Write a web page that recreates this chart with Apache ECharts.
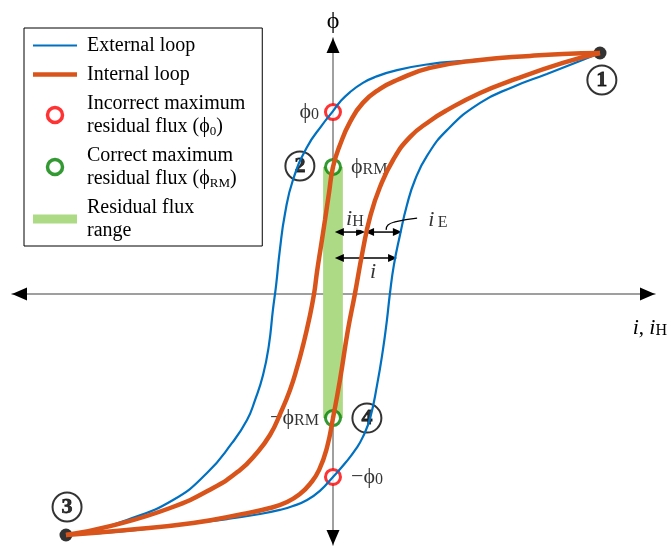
<!DOCTYPE html>
<html><head><meta charset="utf-8">
<script src="https://cdn.jsdelivr.net/npm/echarts@6/dist/echarts.min.js"></script>
<style>html,body{margin:0;padding:0;background:#fff}#c{width:668px;height:547px}</style>
</head><body><div id="c"></div>
<script>
// i normalised to the current at point 1, phi normalised to the flux at point 1
const externalDescending = [
  [1.000, 1.000], [0.861, 0.996], [0.738, 0.988], [0.614, 0.979], [0.487, 0.967],
  [0.363, 0.954], [0.240, 0.929], [0.157, 0.900], [0.112, 0.876], [0.064, 0.838],
  [0.026, 0.797], [0.000, 0.759], [-0.041, 0.701], [-0.097, 0.610], [-0.150, 0.473],
  [-0.180, 0.332], [-0.199, 0.183], [-0.213, 0.037], [-0.225, -0.066], [-0.240, -0.212],
  [-0.262, -0.336], [-0.292, -0.440], [-0.322, -0.523], [-0.378, -0.618], [-0.472, -0.743],
  [-0.599, -0.855], [-0.772, -0.938], [-0.921, -0.988], [-1.000, -1.000]
];
const externalAscending = [
  [-1.000, -1.000], [-0.873, -0.992], [-0.772, -0.983], [-0.648, -0.967], [-0.524, -0.950],
  [-0.397, -0.934], [-0.273, -0.913], [-0.199, -0.896], [-0.150, -0.880], [-0.097, -0.855],
  [-0.049, -0.817], [0.000, -0.759], [0.049, -0.697], [0.086, -0.643], [0.112, -0.593],
  [0.139, -0.515], [0.165, -0.378], [0.187, -0.232], [0.202, -0.108], [0.213, 0.000],
  [0.228, 0.120], [0.251, 0.245], [0.277, 0.369], [0.307, 0.473], [0.352, 0.573],
  [0.427, 0.680], [0.551, 0.793], [0.674, 0.859], [0.801, 0.913], [0.925, 0.967], [1.000, 1.000]
];
const internalDescending = [
  [1.000, 1.000], [0.861, 0.996], [0.738, 0.988], [0.551, 0.971], [0.363, 0.938],
  [0.240, 0.888], [0.176, 0.851], [0.112, 0.793], [0.064, 0.714], [0.026, 0.618],
  [0.000, 0.527], [-0.015, 0.419], [-0.030, 0.307], [-0.045, 0.199], [-0.060, 0.091],
  [-0.071, 0.000], [-0.090, -0.108], [-0.112, -0.212], [-0.135, -0.307], [-0.161, -0.398],
  [-0.195, -0.490], [-0.236, -0.585], [-0.292, -0.668], [-0.348, -0.730], [-0.449, -0.805],
  [-0.610, -0.888], [-0.835, -0.963], [-1.000, -1.000]
];
const internalAscending = [
  [-1.000, -1.000], [-0.772, -0.979], [-0.524, -0.950], [-0.337, -0.913], [-0.236, -0.888],
  [-0.172, -0.863], [-0.124, -0.830], [-0.086, -0.788], [-0.052, -0.730], [-0.022, -0.635],
  [0.000, -0.515], [0.026, -0.357], [0.056, -0.149], [0.082, 0.000], [0.112, 0.183],
  [0.139, 0.320], [0.176, 0.444], [0.225, 0.556], [0.288, 0.651], [0.363, 0.718],
  [0.427, 0.763], [0.551, 0.834], [0.674, 0.888], [0.861, 0.959], [1.000, 1.000]
];
// residual flux points: [i, phi, sign, subscript, label side]
const incorrectResidual = [[0, 0.755, '', '0', 'left'], [0, -0.759, '\u2212', '0', 'right']];
const correctResidual = [[0, 0.527, '', 'RM', 'right'], [0, -0.515, '\u2212', 'RM', 'left']];
const residualRange = [[-0.037, 0.527, 0.037, -0.515]]; // i left, phi top, i right, phi bottom
const saturationPoints = [[1, 1], [-1, -1]];
const stateMarkers = [['1', 1.007, 0.888], ['2', -0.124, 0.531], ['3', -0.996, -0.884], ['4', 0.127, -0.515]];
const currentArrows = [[0.007, 0.120, 0.257], [0.120, 0.258, 0.257], [0.007, 0.240, 0.149]]; // i from, i to, phi
const iELeader = [[0.199, 0.266], [0.206, 0.286], [0.232, 0.299], [0.315, 0.315]];
const annotationLabels = [['{it|i}{sub|H}', 0.082, 0.311, true], ['{it|i}', 0.150, 0.091, false], ['{it|i} {sub|E}', 0.393, 0.307, false]];
const axisRange = { iMin: -1.2022, iMax: 1.2060, phiMin: -1.0415, phiMax: 1.0622 };
const PHI = '\u03D5';
const legendNames = ['External loop', 'Internal loop', 'Incorrect maximum residual flux', 'Correct maximum residual flux', 'Residual flux range'];
const legendTexts = ['External loop', 'Internal loop', 'Incorrect maximum\nresidual flux ({lp|' + PHI + '}{ls|0})',
  'Correct maximum\nresidual flux ({lp|' + PHI + '}{ls|RM})', 'Residual flux\nrange'];

const serif = '"Liberation Serif", "Times New Roman", serif';
const BLUE = '#0070C0', ORANGE = '#D9541A', GREEN = '#008000', RED = '#FF0000', BAND = '#ADDA84';

const rich = {
  p: { fontFamily: serif, fontSize: 22, color: '#000' },
  s: { fontFamily: serif, fontSize: 16, color: '#000', verticalAlign: 'bottom', lineHeight: 16 },
  it: { fontFamily: serif, fontSize: 22, fontStyle: 'italic', color: '#000' },
  sub: { fontFamily: serif, fontSize: 16, color: '#000', verticalAlign: 'bottom', lineHeight: 16 },
  lp: { fontFamily: serif, fontSize: 20, color: '#000' },
  ls: { fontFamily: serif, fontSize: 13, color: '#000', verticalAlign: 'bottom', lineHeight: 16 },
  b: { fontFamily: serif, fontSize: 22, fontWeight: 'bold', color: '#000', textBorderColor: '#000', textBorderWidth: 0.8 }
};

function residualData(arr) {
  return arr.map(d => ({
    value: [d[0], d[1]],
    label: { show: true, position: d[4], distance: d[4] === 'left' ? 4 : 8, color: '#000',
      formatter: '{p|' + d[2] + PHI + '}{s|' + d[3] + '}', rich: rich,
      backgroundColor: d[2] && d[4] === 'left' ? '#fff' : 'transparent', padding: [4, 1, 4, 1] }
  }));
}

const chart = echarts.init(document.getElementById('c'), null, { renderer: 'canvas' });
const lineBase = { type: 'line', symbol: 'none', showSymbol: false, smooth: 0.5, animation: false, silent: true, emphasis: { disabled: true } };

chart.setOption({
  animation: false,
  backgroundColor: '#fff',
  grid: { left: 12, right: 13, top: 38, bottom: 2, outerBoundsMode: 'none', containLabel: false },
  xAxis: {
    type: 'value', min: axisRange.iMin, max: axisRange.iMax,
    axisLine: { onZero: true, lineStyle: { color: '#808080', width: 1.5 } },
    axisTick: { show: false }, axisLabel: { show: false }, splitLine: { show: false },
    name: '{it|i}{p2|, }{it|i}{sub|H}', nameLocation: 'end', nameGap: 12,
    nameTextStyle: { align: 'right', verticalAlign: 'top', padding: [23, 0, 0, 0],
      rich: Object.assign({ p2: { fontFamily: serif, fontSize: 21, color: '#000' } }, rich) }
  },
  yAxis: {
    type: 'value', min: axisRange.phiMin, max: axisRange.phiMax,
    axisLine: { onZero: true, lineStyle: { color: '#808080', width: 1.5 } },
    axisTick: { show: false }, axisLabel: { show: false }, splitLine: { show: false },
    name: PHI, nameLocation: 'end', nameGap: 4,
    nameTextStyle: { fontFamily: serif, fontSize: 24, color: '#000', align: 'center' }
  },
  legend: {
    orient: 'vertical', left: 24, top: 28, padding: [6, 17, 4, 9], itemGap: 6,
    itemWidth: 44, itemHeight: 15, borderColor: '#000', borderWidth: 1, backgroundColor: '#fff',
    selectedMode: false,
    textStyle: { fontFamily: serif, fontSize: 20, color: '#000', lineHeight: 23, padding: [0, 0, 0, 5], rich: rich },
    formatter: name => legendTexts[legendNames.indexOf(name)],
    data: [
      { name: legendNames[0], icon: 'path://M0 0H44V2.2H0Z', itemStyle: { color: BLUE } },
      { name: legendNames[1], icon: 'path://M0 0H44V4.5H0Z', itemStyle: { color: ORANGE } },
      { name: legendNames[2], icon: 'circle', itemStyle: { color: '#fff', borderColor: RED, borderWidth: 3.5 } },
      { name: legendNames[3], icon: 'circle', itemStyle: { color: '#fff', borderColor: GREEN, borderWidth: 3.5 } },
      { name: legendNames[4], icon: 'path://M0 0H43V9H0Z', itemStyle: { color: BAND } }
    ]
  },
  series: [
    {
      name: legendNames[4], type: 'custom', silent: true, itemStyle: { color: BAND },
      encode: { x: [0, 2], y: [1, 3] }, data: residualRange,
      renderItem: (params, api) => {
        const a = api.coord([api.value(0), api.value(1)]);
        const b = api.coord([api.value(2), api.value(3)]);
        return { type: 'rect', shape: { x: a[0], y: a[1], width: b[0] - a[0], height: b[1] - a[1] }, style: { fill: BAND } };
      }
    },
    Object.assign({}, lineBase, { name: legendNames[0], data: externalDescending, itemStyle: { color: BLUE }, lineStyle: { color: BLUE, width: 2.2 } }),
    Object.assign({}, lineBase, { name: legendNames[0], data: externalAscending, itemStyle: { color: BLUE }, lineStyle: { color: BLUE, width: 2.2 } }),
    Object.assign({}, lineBase, { name: legendNames[1], data: internalDescending, itemStyle: { color: ORANGE }, lineStyle: { color: ORANGE, width: 4.5 } }),
    Object.assign({}, lineBase, { name: legendNames[1], data: internalAscending, itemStyle: { color: ORANGE }, lineStyle: { color: ORANGE, width: 4.5 } }),
    {
      name: 'current arrows', type: 'custom', silent: true, data: currentArrows, encode: { x: [0, 1], y: 2 },
      renderItem: (params, api) => {
        const p1 = api.coord([api.value(0), api.value(2)]);
        const p2 = api.coord([api.value(1), api.value(2)]);
        const L = 9, W = 4;
        return { type: 'group', children: [
          { type: 'line', shape: { x1: p1[0] + L - 1, y1: p1[1], x2: p2[0] - L + 1, y2: p2[1] }, style: { stroke: '#000', lineWidth: 1.5 } },
          { type: 'polygon', shape: { points: [[p1[0], p1[1]], [p1[0] + L, p1[1] - W], [p1[0] + L, p1[1] + W]] }, style: { fill: '#000' } },
          { type: 'polygon', shape: { points: [[p2[0], p2[1]], [p2[0] - L, p2[1] - W], [p2[0] - L, p2[1] + W]] }, style: { fill: '#000' } }
        ] };
      }
    },
    Object.assign({}, lineBase, { name: 'iE leader', data: iELeader, smooth: 0.5, lineStyle: { color: '#000', width: 1.2 } }),
    {
      name: 'annotations', type: 'scatter', symbolSize: 1, itemStyle: { color: 'transparent' }, silent: true,
      data: annotationLabels.map(d => ({ value: [d[1], d[2]], label: { show: true, position: 'inside', formatter: d[0], rich: rich,
        backgroundColor: d[3] ? '#fff' : 'transparent', padding: [0, 1, 0, 1] } }))
    },
    {
      name: legendNames[2], type: 'scatter', symbol: 'circle', symbolSize: 15, silent: true,
      itemStyle: { color: '#fff', borderColor: RED, borderWidth: 3 }, data: residualData(incorrectResidual)
    },
    {
      name: legendNames[3], type: 'scatter', symbol: 'circle', symbolSize: 15, silent: true,
      itemStyle: { color: '#fff', borderColor: GREEN, borderWidth: 3 }, data: residualData(correctResidual)
    },
    {
      name: 'saturation', type: 'scatter', symbol: 'circle', symbolSize: 13, silent: true,
      itemStyle: { color: '#000' }, data: saturationPoints
    },
    {
      name: 'states', type: 'scatter', symbol: 'circle', symbolSize: 29, silent: true,
      itemStyle: { color: '#fff', borderColor: '#000', borderWidth: 2 },
      label: { show: true, position: 'inside', formatter: p => '{b|' + p.name + '}', rich: rich },
      data: stateMarkers.map(d => ({ name: d[0], value: [d[1], d[2]] }))
    },
    {
      name: 'axis arrows', type: 'custom', silent: true, encode: { x: 0, y: 1 },
      data: [[axisRange.iMin, 0, -1, 0], [axisRange.iMax, 0, 1, 0], [0, axisRange.phiMax, 0, 1], [0, axisRange.phiMin, 0, -1]],
      renderItem: (params, api) => {
        const t = api.coord([api.value(0), api.value(1)]);
        const dx = api.value(2), dy = -api.value(3);
        const L = 15, W = 6.5;
        const bx = t[0] - L * dx, by = t[1] - L * dy;
        return { type: 'polygon', shape: { points: [[t[0], t[1]], [bx - W * dy, by + W * dx], [bx + W * dy, by - W * dx]] }, style: { fill: '#000' } };
      }
    }
  ]
});
</script></body></html>
